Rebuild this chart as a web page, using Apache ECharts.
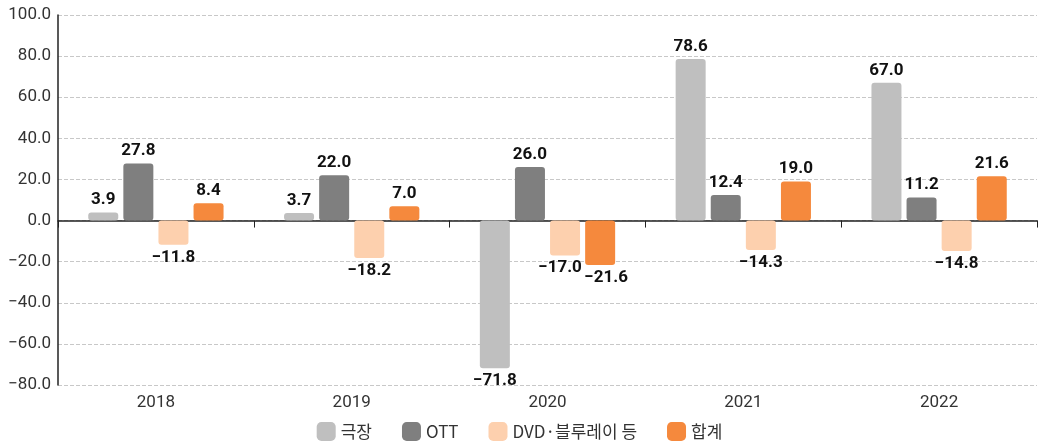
<!DOCTYPE html>
<html>
<head>
<meta charset="utf-8">
<script src="https://cdn.jsdelivr.net/npm/echarts@6/dist/echarts.min.js"></script>
<style>
  html, body { margin: 0; padding: 0; background: #fff; }
  #chart { width: 1039px; height: 446px; }
</style>
</head>
<body>
<div id="chart"></div>
<script>
// 연도
const years = ["2018", "2019", "2020", "2021", "2022"];
// 시리즈별 증감률
const theater = [3.9, 3.7, -71.8, 78.6, 67.0];
const ott = [27.8, 22.0, 26.0, 12.4, 11.2];
const dvd = [-11.8, -18.2, -17.0, -14.3, -14.8];
const total = [8.4, 7.0, -21.6, 19.0, 21.6];

const FONT = 'Roboto, "Noto Sans CJK KR", sans-serif';
const KFONT = '"Noto Sans CJK KR", "Noto Sans", sans-serif';
const fmt = v => (v < 0 ? "\u2212" + Math.abs(v).toFixed(1) : v.toFixed(1));

// 2020년 DVD/합계 라벨이 겹치지 않도록 살짝 벌림
function makeSeries(name, data, color, nudge) {
  return {
    name: name,
    type: "bar",
    data: data.map((v, i) => ({
      value: v,
      label: {
        position: v < 0 ? "bottom" : "top",
        offset: [nudge && i === 2 ? nudge : 0, 0]
      }
    })),
    barWidth: 30,
    barGap: "17%",
    itemStyle: { color: color, borderRadius: 3 },
    label: {
      show: true,
      color: "#111",
      fontWeight: "bold",
      fontSize: 17,
      fontFamily: FONT,
      distance: 4,
      formatter: p => fmt(p.value)
    }
  };
}

const chart = echarts.init(document.getElementById("chart"));
chart.setOption({
  animation: false,
  textStyle: { fontFamily: FONT },
  grid: { left: 58, right: 2, top: 15, bottom: 61 },
  legend: {
    bottom: 0,
    left: "center",
    itemWidth: 19,
    itemHeight: 19,
    itemGap: 30,
    textStyle: { fontSize: 17, color: "#333", fontFamily: KFONT },
    data: ["극장", "OTT", "DVD·블루레이 등", "합계"]
  },
  xAxis: [
    {
      type: "category",
      data: years,
      position: "bottom",
      axisLine: { onZero: false, show: false },
      axisTick: { show: false },
      axisLabel: { fontSize: 17, color: "#333", margin: 9, fontFamily: FONT }
    },
    {
      type: "category",
      data: years,
      axisLine: { onZero: true, lineStyle: { color: "#222", width: 1.5 } },
      axisTick: { show: true, inside: true, length: 7, lineStyle: { color: "#222" } },
      axisLabel: { show: false }
    }
  ],
  yAxis: {
    type: "value",
    min: -80,
    max: 100,
    interval: 20,
    axisLine: { show: true, lineStyle: { color: "#222", width: 1.5 } },
    axisTick: { show: false },
    axisLabel: {
      fontSize: 17,
      color: "#333",
      margin: 7,
      fontFamily: FONT,
      formatter: v => fmt(v)
    },
    splitLine: { lineStyle: { color: "#c8c8c8", type: "dashed" } }
  },
  series: [
    makeSeries("극장", theater, "#bfbfbf"),
    makeSeries("OTT", ott, "#7f7f7f"),
    makeSeries("DVD·블루레이 등", dvd, "#fdd0ae", -5),
    makeSeries("합계", total, "#f5893d", 6)
  ]
});
</script>
</body>
</html>
